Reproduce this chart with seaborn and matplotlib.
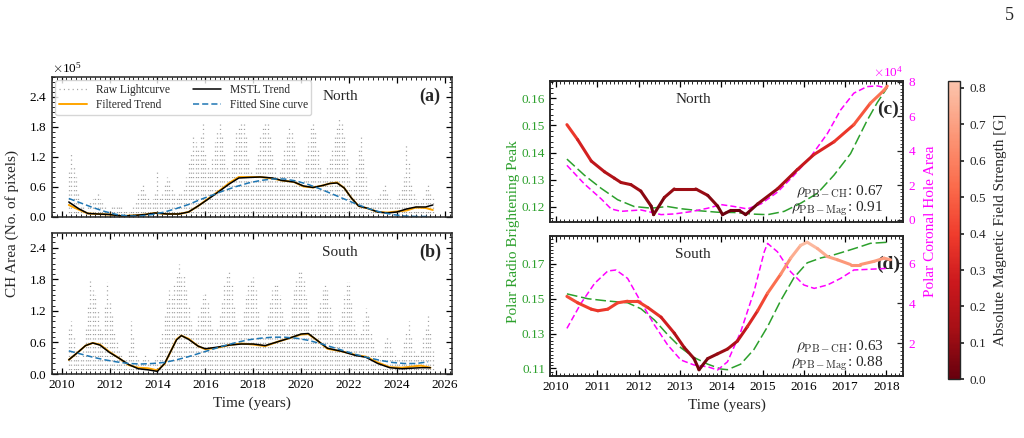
import numpy as np
import matplotlib
matplotlib.use("Agg")
import matplotlib.pyplot as plt
import seaborn as sns
from matplotlib.collections import LineCollection
from matplotlib.colors import LinearSegmentedColormap, Normalize
from matplotlib.cm import ScalarMappable
from matplotlib.ticker import MultipleLocator, AutoMinorLocator, ScalarFormatter, FixedLocator

# ---------------------------------------------------------------------------
# Data
# ---------------------------------------------------------------------------

# raw light-curve upper envelope, 0.1-yr bins from 2010.3 to 2025.5 (units of 1e5 px)
raw_years = np.linspace(2010.3, 2025.5, 153)
north_raw = [
    0.9, 1.3, 1.0, 0.8, 0.5, 0.25, 0.2,
    0.15, 0.2, 0.3, 0.35, 0.4, 0.45, 0.35, 0.3, 0.2, 0.15,
    0.15, 0.2, 0.25, 0.25, 0.2, 0.2, 0.15, 0.15, 0.1, 0.15,
    0.2, 0.3, 0.45, 0.6, 0.65, 0.5, 0.4, 0.3, 0.35, 0.5,
    0.95, 0.4, 0.5, 0.65, 0.8, 0.75, 0.6, 0.45, 0.4, 0.5,
    0.5, 0.6, 0.8, 1.1, 1.3, 1.6, 1.5, 1.4, 1.6, 1.85,
    1.3, 1.0, 0.9, 1.2, 1.5, 1.7, 1.85, 1.6, 1.3, 1.0,
    0.9, 1.1, 1.4, 1.7, 1.8, 1.9, 1.85, 1.6, 1.2, 0.9,
    0.8, 1.0, 1.3, 1.6, 1.8, 1.9, 1.85, 1.6, 1.3, 1.0,
    0.8, 0.9, 1.1, 1.4, 1.6, 1.8, 1.7, 1.5, 1.2, 0.9,
    0.7, 0.9, 1.2, 1.5, 1.8, 1.85, 1.7, 1.4, 1.0, 0.8,
    0.8, 1.0, 1.2, 1.4, 1.6, 1.8, 1.95, 1.85, 1.6, 1.2,
    0.8, 0.6, 0.7, 1.0, 1.4, 1.6, 1.2, 0.8, 0.5, 0.35,
    0.3, 0.35, 0.4, 0.5, 0.6, 0.65, 0.5, 0.35, 0.3, 0.3,
    0.35, 0.45, 0.6, 0.8, 1.45, 1.1, 0.7, 0.5, 0.35, 0.3,
    0.3, 0.4, 0.6, 0.65, 0.5, 0.4,
]
south_raw = [
    0.9, 1.0, 0.7, 0.5, 0.35, 0.3, 0.5,
    0.9, 1.3, 1.8, 1.6, 1.5, 1.2, 0.9, 0.8, 1.3, 1.75,
    1.4, 1.1, 0.8, 0.6, 0.5, 0.4, 0.3, 0.3, 0.5, 1.0,
    0.7, 0.4, 0.3, 0.25, 0.3, 0.4, 0.3, 0.25, 0.2, 0.3,
    0.4, 0.6, 0.8, 1.1, 1.4, 1.6, 1.5, 1.7, 1.9, 2.1,
    1.85, 1.9, 1.6, 1.3, 1.0, 0.8, 0.9, 1.1, 1.3, 1.5,
    1.55, 1.4, 1.1, 0.9, 0.8, 0.9, 1.1, 1.4, 1.7, 1.9,
    2.0, 1.7, 1.3, 1.0, 0.8, 0.9, 1.2, 1.5, 1.7, 1.8,
    1.85, 1.6, 1.2, 0.9, 0.8, 0.9, 1.1, 1.4, 1.6, 1.7,
    1.7, 1.5, 1.2, 1.0, 0.9, 1.0, 1.3, 1.6, 1.8, 2.0,
    2.0, 1.8, 1.5, 1.2, 1.0, 0.9, 1.0, 1.2, 1.4, 1.6,
    1.7, 1.6, 1.3, 1.0, 0.8, 0.8, 1.0, 1.2, 1.5, 1.75,
    1.75, 1.4, 1.0, 0.8, 0.7, 0.8, 1.0, 1.25, 1.1, 0.8,
    0.6, 0.5, 0.4, 0.4, 0.5, 0.6, 0.7, 0.65, 0.5, 0.4,
    0.3, 0.3, 0.4, 0.6, 0.8, 1.0, 0.7, 0.5, 0.4, 0.4,
    0.5, 0.7, 0.9, 1.1, 0.8, 0.5,
]

# trends (units of 1e5 px)
north_trend_t = [2010.3, 2010.7, 2011.1, 2011.5, 2012.0, 2012.5, 2013.0, 2013.5, 2013.9, 2014.4,
                 2014.9, 2015.3, 2015.7, 2016.1, 2016.6, 2017.0, 2017.4, 2017.8, 2018.3, 2018.8,
                 2019.2, 2019.7, 2020.1, 2020.5, 2020.9, 2021.2, 2021.5, 2021.8, 2022.1, 2022.4,
                 2022.8, 2023.2, 2023.6, 2024.0, 2024.4, 2024.8, 2025.2, 2025.5]
north_mstl = [0.30, 0.17, 0.07, 0.06, 0.05, 0.02, 0.03, 0.05, 0.08, 0.06,
              0.06, 0.10, 0.22, 0.35, 0.52, 0.66, 0.78, 0.79, 0.80, 0.78,
              0.73, 0.70, 0.62, 0.59, 0.63, 0.67, 0.68, 0.58, 0.38, 0.22,
              0.17, 0.10, 0.08, 0.10, 0.16, 0.20, 0.20, 0.24]
north_filt = [0.24, 0.15, 0.07, 0.06, 0.05, 0.02, 0.03, 0.05, 0.08, 0.06,
              0.06, 0.10, 0.22, 0.36, 0.53, 0.68, 0.80, 0.80, 0.80, 0.77,
              0.73, 0.70, 0.61, 0.59, 0.63, 0.67, 0.69, 0.58, 0.38, 0.22,
              0.17, 0.10, 0.09, 0.11, 0.13, 0.19, 0.18, 0.14]
south_trend_t = [2010.3, 2010.7, 2011.0, 2011.3, 2011.6, 2012.0, 2012.4, 2012.8, 2013.2, 2013.6,
                 2014.0, 2014.3, 2014.6, 2014.8, 2015.0, 2015.3, 2015.7, 2016.0, 2016.5, 2017.0,
                 2017.5, 2018.0, 2018.5, 2019.0, 2019.5, 2020.0, 2020.3, 2020.7, 2021.1, 2021.7,
                 2022.3, 2022.7, 2023.2, 2023.7, 2024.2, 2024.6, 2025.0, 2025.4]
south_mstl = [0.27, 0.42, 0.54, 0.59, 0.55, 0.41, 0.30, 0.18, 0.10, 0.08,
              0.05, 0.20, 0.47, 0.65, 0.73, 0.66, 0.53, 0.48, 0.51, 0.55,
              0.57, 0.57, 0.54, 0.61, 0.68, 0.76, 0.77, 0.63, 0.49, 0.43,
              0.35, 0.32, 0.20, 0.12, 0.10, 0.11, 0.12, 0.12]
south_filt = [0.27, 0.42, 0.54, 0.59, 0.56, 0.42, 0.30, 0.17, 0.12, 0.11,
              0.07, 0.19, 0.47, 0.66, 0.73, 0.67, 0.53, 0.47, 0.50, 0.55,
              0.58, 0.56, 0.53, 0.61, 0.68, 0.75, 0.76, 0.63, 0.48, 0.43,
              0.36, 0.33, 0.22, 0.13, 0.12, 0.14, 0.16, 0.12]

# fitted sine curves, 0.5-yr steps from 2010.3 (units of 1e5 px)
sine_t = [2010.3 + 0.5 * k for k in range(31)]
north_sine = [0.37, 0.28, 0.19, 0.11, 0.05, 0.02, 0.02, 0.05, 0.10, 0.17,
              0.25, 0.35, 0.44, 0.53, 0.61, 0.68, 0.73, 0.76, 0.76, 0.72,
              0.65, 0.56, 0.46, 0.36, 0.26, 0.17, 0.10, 0.05, 0.02, 0.01, 0.01]
south_sine = [0.44, 0.38, 0.32, 0.27, 0.23, 0.20, 0.19, 0.20, 0.22, 0.27,
              0.33, 0.40, 0.47, 0.54, 0.60, 0.65, 0.68, 0.70, 0.70, 0.68,
              0.64, 0.58, 0.51, 0.44, 0.37, 0.31, 0.26, 0.22, 0.20, 0.20, 0.23]

# (c) North: magnetic field [G], radio brightening peak, CH area (1e4)
c_mag_t = [2010.26, 2010.52, 2010.85, 2011.17, 2011.41, 2011.57, 2011.81, 2012.05, 2012.30, 2012.36,
           2012.62, 2012.86, 2013.18, 2013.38, 2013.67, 2013.91, 2014.03, 2014.23, 2014.43, 2014.59,
           2014.88, 2015.36, 2015.84, 2016.24, 2016.73, 2017.21, 2017.61, 2017.94, 2018.02]
c_mag = [0.42, 0.35, 0.25, 0.20, 0.17, 0.15, 0.14, 0.11, 0.04, 0.00,
         0.08, 0.12, 0.12, 0.12, 0.09, 0.04, 0.00, 0.02, 0.02, 0.00,
         0.05, 0.12, 0.21, 0.28, 0.34, 0.42, 0.52, 0.58, 0.60]
c_pb_t = [2010.26, 2010.68, 2011.09, 2011.49, 2011.89, 2012.30, 2012.70, 2013.02, 2013.50, 2013.91,
          2014.31, 2014.79, 2015.12, 2015.52, 2015.92, 2016.33, 2016.73, 2017.13, 2017.53, 2017.78, 2018.02]
c_pb = [0.1376, 0.1317, 0.1268, 0.1226, 0.1201, 0.1195, 0.1201, 0.1193, 0.1185, 0.1180,
        0.1179, 0.1173, 0.1171, 0.1183, 0.1213, 0.1250, 0.1317, 0.1396, 0.1518, 0.1585, 0.1640]
c_ch_t = [2010.26, 2010.68, 2011.09, 2011.33, 2011.57, 2012.05, 2012.30, 2012.54, 2012.86, 2013.26,
          2013.67, 2013.99, 2014.31, 2014.63, 2014.96, 2015.36, 2015.76, 2016.16, 2016.57, 2016.89,
          2017.21, 2017.53, 2017.78, 2018.02]
c_ch = [3.16, 2.09, 1.22, 0.64, 0.50, 0.58, 0.45, 0.31, 0.35, 0.48,
        0.68, 0.89, 0.78, 0.64, 0.93, 1.61, 2.58, 3.64, 5.00, 6.36,
        7.33, 7.71, 7.75, 7.62]

# (d) South
d_mag_t = [2010.26, 2010.52, 2010.85, 2011.01, 2011.25, 2011.49, 2011.73, 2011.97, 2012.22, 2012.54,
           2012.86, 2013.10, 2013.34, 2013.46, 2013.67, 2013.91, 2014.15, 2014.39, 2014.63, 2014.88,
           2015.12, 2015.44, 2015.68, 2015.92, 2016.08, 2016.33, 2016.57, 2016.81, 2017.13, 2017.37,
           2017.70, 2017.94, 2018.10]
d_mag = [0.46, 0.42, 0.38, 0.37, 0.38, 0.42, 0.43, 0.43, 0.39, 0.33,
         0.23, 0.14, 0.07, 0.00, 0.07, 0.10, 0.13, 0.18, 0.27, 0.37,
         0.48, 0.60, 0.70, 0.78, 0.80, 0.76, 0.71, 0.69, 0.66, 0.66,
         0.68, 0.70, 0.69]
d_pb_t = [2010.26, 2010.77, 2011.25, 2011.73, 2012.05, 2012.38, 2012.70, 2013.02, 2013.34, 2013.67,
          2013.99, 2014.15, 2014.47, 2014.79, 2015.12, 2015.44, 2015.76, 2016.08, 2016.41, 2016.73,
          2017.05, 2017.37, 2017.61, 2018.02]
d_pb = [0.1528, 0.1500, 0.1487, 0.1477, 0.1443, 0.1378, 0.1294, 0.1219, 0.1163, 0.1125,
        0.1097, 0.1093, 0.1125, 0.1209, 0.1340, 0.1490, 0.1621, 0.1706, 0.1734, 0.1752,
        0.1775, 0.1799, 0.1818, 0.1824]
d_ch_t = [2010.26, 2010.60, 2010.93, 2011.25, 2011.45, 2011.73, 2012.05, 2012.38, 2012.70, 2013.02,
          2013.34, 2013.67, 2013.91, 2014.15, 2014.47, 2014.79, 2015.04, 2015.12, 2015.36, 2015.68,
          2016.00, 2016.25, 2016.57, 2016.89, 2017.21, 2017.53, 2018.02]
d_ch = [2.75, 4.00, 5.00, 5.62, 5.67, 5.25, 4.08, 2.92, 1.92, 1.17,
        0.92, 0.83, 0.67, 1.08, 2.58, 4.58, 6.58, 7.00, 6.58, 5.58,
        4.92, 4.75, 4.92, 5.25, 5.67, 5.70, 5.75]

c_pb_ticks = [0.12, 0.13, 0.14, 0.15, 0.16]
d_pb_ticks = [0.11, 0.13, 0.15, 0.17]
rho_c = ("0.67", "0.91")
rho_d = ("0.63", "0.88")

# ---------------------------------------------------------------------------
# Style
# ---------------------------------------------------------------------------
sns.set_theme(style="ticks")
plt.rcParams["font.family"] = ["Liberation Serif", "DejaVu Serif"]
plt.rcParams["mathtext.fontset"] = "cm"
plt.rcParams["axes.linewidth"] = 1.1
plt.rcParams["xtick.labelsize"] = 9.5
plt.rcParams["ytick.labelsize"] = 9.5

GREEN = "#2ca02c"
MAGENTA = "#ff00ff"
cmap = LinearSegmentedColormap.from_list("mag", plt.cm.Reds(np.linspace(1.0, 0.22, 256)))
norm = Normalize(0, 0.82)

fig = plt.figure(figsize=(10.24, 4.38), dpi=100)
ax_a = fig.add_axes([0.0508, 0.5046, 0.3906, 0.3196])
ax_b = fig.add_axes([0.0508, 0.1461, 0.3906, 0.3219])
ax_c = fig.add_axes([0.5371, 0.4938, 0.3447, 0.3219])
ax_d = fig.add_axes([0.5371, 0.1416, 0.3447, 0.3196])
cax = fig.add_axes([0.9258, 0.134, 0.0117, 0.682])


def ticks_in(ax, right=True):
    ax.tick_params(which="both", direction="in", top=True, right=right, colors="black")
    ax.tick_params(which="major", length=4, width=0.9)
    ax.tick_params(which="minor", length=2, width=0.6)


# ---------------------------------------------------------------------------
# (a), (b) light curves
# ---------------------------------------------------------------------------
def lightcurve(ax, raw, t, mstl, filt, sine, ymax, name, tag):
    ax.vlines(raw_years, 0, np.array(raw) * 1e5, colors="0.25", linestyles=(0, (0.9, 2.6)),
              linewidth=0.9, alpha=0.5, label="Raw Lightcurve")
    sns.lineplot(x=t, y=np.array(filt) * 1e5, ax=ax, color="orange", lw=1.4, label="Filtered Trend")
    sns.lineplot(x=t, y=np.array(mstl) * 1e5, ax=ax, color="black", lw=1.1, label="MSTL Trend")
    sns.lineplot(x=sine_t, y=np.array(sine) * 1e5, ax=ax, color="#1f77b4", lw=1.1,
                 linestyle=(0, (4, 2)), label="Fitted Sine curve")
    ax.set_xlim(2009.6, 2026.3)
    ax.set_ylim(0, ymax * 1e5)
    ax.xaxis.set_major_locator(MultipleLocator(2))
    ax.xaxis.set_minor_locator(AutoMinorLocator(10))
    ax.yaxis.set_major_locator(MultipleLocator(0.6e5))
    ax.yaxis.set_minor_locator(AutoMinorLocator(6))
    fmt = ScalarFormatter(useMathText=True)
    fmt.set_powerlimits((0, 0))
    ax.yaxis.set_major_formatter(fmt)
    ax.set_ylabel("")
    ticks_in(ax)
    ax.text(0.72, 0.86, name, transform=ax.transAxes, ha="center", va="center", fontsize=11)
    ax.text(0.945, 0.86, tag, transform=ax.transAxes, ha="center", va="center",
            fontsize=13, fontweight="bold")


lightcurve(ax_a, north_raw, north_trend_t, north_mstl, north_filt, north_sine, 2.8, "North", "(a)")
lightcurve(ax_b, south_raw, south_trend_t, south_mstl, south_filt, south_sine, 2.68, "South", "(b)")

handles, labels = ax_a.get_legend_handles_labels()
ax_a.legend(handles, labels, ncol=2, loc="upper left", fontsize=8.3, frameon=True,
            fancybox=True, edgecolor="0.8", borderaxespad=0.3, handlelength=2.4,
            columnspacing=2.0, labelspacing=0.3, borderpad=0.3)
if ax_b.get_legend() is not None:
    ax_b.get_legend().remove()
ax_a.tick_params(labelbottom=False)
ax_a.yaxis.get_offset_text().set_fontsize(9.5)
ax_b.yaxis.get_offset_text().set_visible(False)
ax_b.set_xlabel("Time (years)", fontsize=11)

fig.text(0.012, 0.49, "CH Area (No. of pixels)", rotation=90, ha="center", va="center", fontsize=11)


# ---------------------------------------------------------------------------
# (c), (d) radio brightening / CH area / magnetic field
# ---------------------------------------------------------------------------
def polar(ax, mag_t, mag, pb_t, pb, ch_t, ch, pb_lim, ch_lim, mag_lim, name, tag, rho, pb_ticks, pb_minor):
    sns.lineplot(x=pb_t, y=pb, ax=ax, color=GREEN, lw=1.1, linestyle=(0, (7, 2.5)))
    ax.set_xlim(2009.85, 2018.4)
    ax.set_ylim(*pb_lim)
    ax.xaxis.set_major_locator(MultipleLocator(1))
    ax.xaxis.set_minor_locator(AutoMinorLocator(10))
    ax.yaxis.set_major_locator(FixedLocator(pb_ticks))
    ax.yaxis.set_minor_locator(MultipleLocator(pb_minor))
    ax.set_ylabel("")
    ticks_in(ax, right=False)
    ax.tick_params(axis="y", labelcolor=GREEN)

    ax2 = ax.twinx()
    sns.lineplot(x=ch_t, y=np.array(ch) * 1e4, ax=ax2, color=MAGENTA, lw=1.1, linestyle=(0, (4, 2)))
    ax2.set_ylim(ch_lim[0] * 1e4, ch_lim[1] * 1e4)
    ax2.yaxis.set_major_locator(MultipleLocator(2e4))
    ax2.yaxis.set_minor_locator(AutoMinorLocator(10))
    fmt = ScalarFormatter(useMathText=True)
    fmt.set_powerlimits((0, 0))
    ax2.yaxis.set_major_formatter(fmt)
    ax2.set_ylabel("")
    ax2.tick_params(which="both", direction="in", right=True)
    ax2.tick_params(which="major", length=4, width=0.9)
    ax2.tick_params(which="minor", length=2, width=0.6)
    ax2.tick_params(axis="y", labelcolor=MAGENTA)
    ax2.yaxis.get_offset_text().set_color(MAGENTA)
    ax2.yaxis.get_offset_text().set_fontsize(9.5)

    ax3 = ax.twinx()
    ax3.set_ylim(*mag_lim)
    ax3.axis("off")
    pts = np.column_stack([mag_t, mag]).reshape(-1, 1, 2)
    segs = np.concatenate([pts[:-1], pts[1:]], axis=1)
    mag_arr = np.array(mag)
    lc = LineCollection(segs, cmap=cmap, norm=norm, linewidth=2.2, capstyle="round")
    lc.set_array((mag_arr[:-1] + mag_arr[1:]) / 2)
    ax3.add_collection(lc)
    ax3.set_xlim(2009.85, 2018.4)

    ax.text(0.405, 0.87, name, transform=ax.transAxes, ha="center", va="center", fontsize=11)
    ax.text(0.958, 0.80, tag, transform=ax.transAxes, ha="center", va="center",
            fontsize=14, fontweight="bold")
    ax.text(0.945, 0.21, r"$\rho_{\rm PB-CH}$: " + rho[0], transform=ax.transAxes,
            ha="right", va="center", fontsize=11)
    ax.text(0.945, 0.09, r"$\rho_{\rm PB-Mag}$: " + rho[1], transform=ax.transAxes,
            ha="right", va="center", fontsize=11)
    return ax2


ax_c2 = polar(ax_c, c_mag_t, c_mag, c_pb_t, c_pb, c_ch_t, c_ch, (0.1145, 0.1665), (-0.1, 8.05),
              (-0.033, 0.625), "North", "(c)", rho_c, c_pb_ticks, 0.002)
ax_d2 = polar(ax_d, d_mag_t, d_mag, d_pb_t, d_pb, d_ch_t, d_ch, (0.1057, 0.186), (0.37, 7.37),
              (-0.039, 0.839), "South", "(d)", rho_d, d_pb_ticks, 0.002)
ax_d2.yaxis.get_offset_text().set_visible(False)
ax_c.tick_params(labelbottom=False)
ax_d.set_xlabel("Time (years)", fontsize=11)

fig.text(0.501, 0.472, "Polar Radio Brightening Peak", rotation=90, ha="center", va="center",
         fontsize=11, color=GREEN)
fig.text(0.909, 0.495, "Polar Coronal Hole Area", rotation=90, ha="center", va="center",
         fontsize=11, color=MAGENTA)

# colorbar
cb = fig.colorbar(ScalarMappable(norm=norm, cmap=cmap), cax=cax)
cb.set_ticks(np.arange(0, 0.81, 0.1))
cb.ax.tick_params(labelsize=9.5, direction="out", length=3)
cb.outline.set_linewidth(1.0)
cb.set_label("Absolute Magnetic Field Strength [G]", fontsize=11, labelpad=6)

fig.text(0.986, 0.965, "5", ha="center", va="center", fontsize=13)

fig.savefig("out.png", dpi=100)
